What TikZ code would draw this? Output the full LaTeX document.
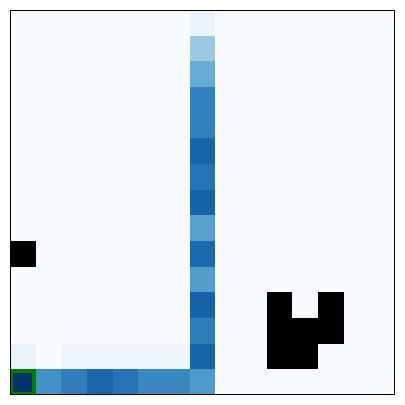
\documentclass[tikz,border=0pt]{standalone}
\usetikzlibrary{positioning}

\begin{document}
\begin{tikzpicture}
  % 15x15 grid of values, one unit per cell, row 0 at the top
  \definecolor{bg}{HTML}{F7FBFF}
  \definecolor{wall}{HTML}{000000}
  \definecolor{start}{HTML}{008000}
  \useasboundingbox (-0.39,-0.39) rectangle (15.39,15.39);
  \fill[white] (-0.39,-0.39) rectangle (15.39,15.39);
  \fill[bg] (0,0) rectangle (15,15);

  \tikzset{cell/.style={line width=0pt}}
  % the long column
  \foreach \r/\c in {0/EBF3FB,1/9CC9E1,2/68ACD5,3/3080BD,4/3080BD,5/1764AB,
                     6/2474B7,7/1663AA,8/58A1CF,9/1B69AF,10/529DCC,11/1663AA,
                     12/2E7EBC,13/1764AB,14/4E9ACB} {
    \definecolor{v}{HTML}{\c}
    \fill[cell,v] (7,14-\r) rectangle (8,15-\r);
  }
  % the bottom row
  \foreach \x/\c in {0/08306B,1/4191C6,2/2E7EBC,3/1966AD,4/2373B6,5/3989C1,6/3989C1} {
    \definecolor{v}{HTML}{\c}
    \fill[cell,v] (\x,0) rectangle (\x+1,1);
  }
  % faint row just above
  \definecolor{faint}{HTML}{EEF5FC}
  \definecolor{faintb}{HTML}{EBF3FA}
  \fill[faintb] (0,1) rectangle (1,2);
  \fill[faint] (2,1) rectangle (7,2);

  % obstacles
  \fill[wall] (0,5) rectangle (1,6);
  \fill[wall] (10,3) rectangle (11,4);
  \fill[wall] (12,3) rectangle (13,4);
  \fill[wall] (10,2) rectangle (13,3);
  \fill[wall] (10,1) rectangle (12,2);

  % start cell
  \draw[start,line width=3.6pt] (0.07,0.07) rectangle (0.93,0.93);

  \draw[black,line width=1.1pt] (0,0) rectangle (15,15);
\end{tikzpicture}
\end{document}
